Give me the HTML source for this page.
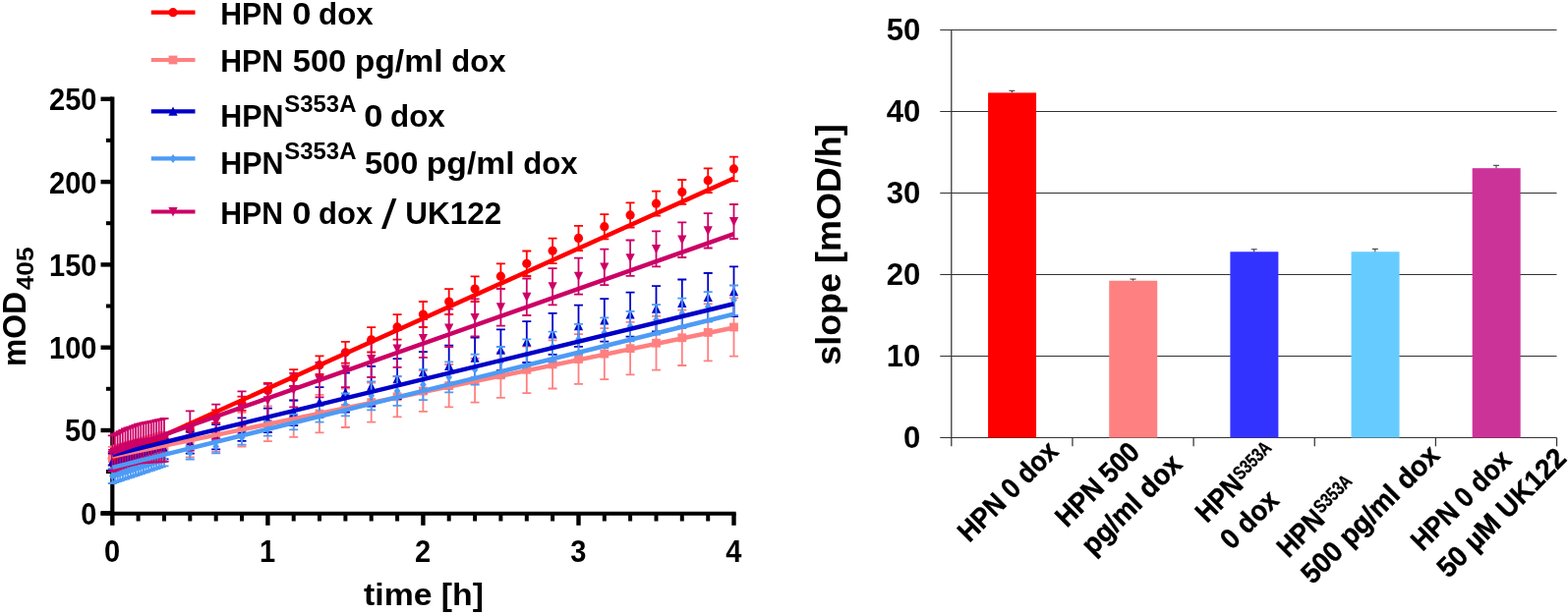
<!DOCTYPE html>
<html lang="en"><head><meta charset="utf-8"><title>HPN activity</title>
<style>html,body{margin:0;padding:0;background:#fff}body{width:1595px;height:626px;overflow:hidden}</style></head>
<body>
<svg width="1595" height="626" viewBox="0 0 1595 626" style="display:block">
<rect width="1595" height="626" fill="#ffffff"/>
<line x1="956.3" y1="445.50" x2="1583.5" y2="445.50" stroke="#333333" stroke-width="1.2"/>
<line x1="956.3" y1="362.50" x2="1583.5" y2="362.50" stroke="#333333" stroke-width="1.2"/>
<line x1="956.3" y1="279.50" x2="1583.5" y2="279.50" stroke="#333333" stroke-width="1.2"/>
<line x1="956.3" y1="196.50" x2="1583.5" y2="196.50" stroke="#333333" stroke-width="1.2"/>
<line x1="956.3" y1="113.50" x2="1583.5" y2="113.50" stroke="#333333" stroke-width="1.2"/>
<line x1="956.3" y1="30.50" x2="1583.5" y2="30.50" stroke="#333333" stroke-width="1.2"/>
<line x1="967.8" y1="30.5" x2="967.8" y2="454.3" stroke="#333333" stroke-width="1.25"/>
<line x1="1090.95" y1="445.5" x2="1090.95" y2="454.3" stroke="#333333" stroke-width="1.25"/>
<line x1="1214.10" y1="445.5" x2="1214.10" y2="454.3" stroke="#333333" stroke-width="1.25"/>
<line x1="1337.25" y1="445.5" x2="1337.25" y2="454.3" stroke="#333333" stroke-width="1.25"/>
<line x1="1460.40" y1="445.5" x2="1460.40" y2="454.3" stroke="#333333" stroke-width="1.25"/>
<line x1="1583.55" y1="445.5" x2="1583.55" y2="454.3" stroke="#333333" stroke-width="1.25"/>
<rect x="1005.08" y="94.41" width="49" height="351.09" fill="#ff0000"/>
<path d="M1029.4 94.4V92.3M1026.4 92.3H1032.4" stroke="#333333" stroke-width="1" fill="none"/>
<rect x="1128.23" y="285.73" width="49" height="159.77" fill="#ff8080"/>
<path d="M1152.5 285.7V284.1M1149.5 284.1H1155.5" stroke="#333333" stroke-width="1" fill="none"/>
<rect x="1251.38" y="256.26" width="49" height="189.24" fill="#3333ff"/>
<path d="M1275.7 256.3V253.8M1272.7 253.8H1278.7" stroke="#333333" stroke-width="1" fill="none"/>
<rect x="1374.53" y="256.26" width="49" height="189.24" fill="#66ccff"/>
<path d="M1398.8 256.3V253.4M1395.8 253.4H1401.8" stroke="#333333" stroke-width="1" fill="none"/>
<rect x="1497.67" y="171.19" width="49" height="274.31" fill="#cc3399"/>
<path d="M1522.0 171.2V168.3M1519.0 168.3H1525.0" stroke="#333333" stroke-width="1" fill="none"/>
<text x="936.3" y="456.1" font-size="31.5" text-anchor="end" textLength="17.3" lengthAdjust="spacingAndGlyphs" font-family="Liberation Sans, Arial, sans-serif" font-weight="bold">0</text>
<text x="936.3" y="373.1" font-size="31.5" text-anchor="end" textLength="34.6" lengthAdjust="spacingAndGlyphs" font-family="Liberation Sans, Arial, sans-serif" font-weight="bold">10</text>
<text x="936.3" y="290.1" font-size="31.5" text-anchor="end" textLength="34.6" lengthAdjust="spacingAndGlyphs" font-family="Liberation Sans, Arial, sans-serif" font-weight="bold">20</text>
<text x="936.3" y="207.1" font-size="31.5" text-anchor="end" textLength="34.6" lengthAdjust="spacingAndGlyphs" font-family="Liberation Sans, Arial, sans-serif" font-weight="bold">30</text>
<text x="936.3" y="124.1" font-size="31.5" text-anchor="end" textLength="34.6" lengthAdjust="spacingAndGlyphs" font-family="Liberation Sans, Arial, sans-serif" font-weight="bold">40</text>
<text x="936.3" y="41.1" font-size="31.5" text-anchor="end" textLength="34.6" lengthAdjust="spacingAndGlyphs" font-family="Liberation Sans, Arial, sans-serif" font-weight="bold">50</text>
<text transform="translate(854.5,371.8) rotate(-90)" font-size="35.8" textLength="245.5" lengthAdjust="spacingAndGlyphs" font-family="Liberation Sans, Arial, sans-serif" font-weight="bold">slope [mOD/h]</text>
<text transform="translate(986.1,552.9) rotate(-45)" font-size="29" textLength="130" lengthAdjust="spacingAndGlyphs" stroke="#000" stroke-width="0.45" stroke-linejoin="round" font-family="Liberation Sans, Arial, sans-serif" font-weight="bold">HPN 0 dox</text>
<text transform="translate(1085.3,537.7) rotate(-45)" font-size="29" textLength="107" lengthAdjust="spacingAndGlyphs" stroke="#000" stroke-width="0.45" stroke-linejoin="round" font-family="Liberation Sans, Arial, sans-serif" font-weight="bold">HPN 500</text>
<text transform="translate(1111.7,566.3) rotate(-45)" font-size="29" textLength="130.5" lengthAdjust="spacingAndGlyphs" stroke="#000" stroke-width="0.45" stroke-linejoin="round" font-family="Liberation Sans, Arial, sans-serif" font-weight="bold">pg/ml dox</text>
<text transform="translate(1227.8,533.2) rotate(-45)" stroke="#000" stroke-linejoin="round" font-family="Liberation Sans, Arial, sans-serif" font-weight="bold"><tspan x="0" y="0" font-size="29" stroke-width="0.45" textLength="54" lengthAdjust="spacingAndGlyphs">HPN</tspan><tspan x="55.1" y="-6.7" font-size="19.5" stroke-width="0.3" textLength="46" lengthAdjust="spacingAndGlyphs">S353A</tspan></text>
<text transform="translate(1253.0,560.5) rotate(-45)" font-size="29" textLength="70" lengthAdjust="spacingAndGlyphs" stroke="#000" stroke-width="0.45" stroke-linejoin="round" font-family="Liberation Sans, Arial, sans-serif" font-weight="bold">0 dox</text>
<text transform="translate(1310.8,568.7) rotate(-45)" stroke="#000" stroke-linejoin="round" font-family="Liberation Sans, Arial, sans-serif" font-weight="bold"><tspan x="0" y="0" font-size="29" stroke-width="0.45" textLength="54" lengthAdjust="spacingAndGlyphs">HPN</tspan><tspan x="55.4" y="-8.5" font-size="19.5" stroke-width="0.3" textLength="46" lengthAdjust="spacingAndGlyphs">S353A</tspan></text>
<text transform="translate(1335.2,595.8) rotate(-45)" font-size="29" textLength="185" lengthAdjust="spacingAndGlyphs" stroke="#000" stroke-width="0.45" stroke-linejoin="round" font-family="Liberation Sans, Arial, sans-serif" font-weight="bold">500 pg/ml dox</text>
<text transform="translate(1447.1,561.9) rotate(-45)" font-size="29" textLength="130" lengthAdjust="spacingAndGlyphs" stroke="#000" stroke-width="0.45" stroke-linejoin="round" font-family="Liberation Sans, Arial, sans-serif" font-weight="bold">HPN 0 dox</text>
<text transform="translate(1473.4,589.6) rotate(-45)" font-size="29" textLength="172" lengthAdjust="spacingAndGlyphs" stroke="#000" stroke-width="0.45" stroke-linejoin="round" font-family="Liberation Sans, Arial, sans-serif" font-weight="bold">50 µM UK122</text>
<path d="M114.3 98.6V524.5" stroke="#000" stroke-width="4.2" fill="none"/>
<path d="M102.5 522.6999999999999H748.6" stroke="#000" stroke-width="3.9" fill="none"/>
<line x1="102.5" y1="522.3" x2="114.3" y2="522.3" stroke="#000" stroke-width="4.4"/>
<line x1="107.9" y1="480.1" x2="114.3" y2="480.1" stroke="#000" stroke-width="4"/>
<text x="98.4" y="533.7" font-size="31" text-anchor="end" textLength="16.1" lengthAdjust="spacingAndGlyphs" font-family="Liberation Sans, Arial, sans-serif" font-weight="bold">0</text>
<line x1="102.5" y1="438.0" x2="114.3" y2="438.0" stroke="#000" stroke-width="4.4"/>
<line x1="107.9" y1="395.8" x2="114.3" y2="395.8" stroke="#000" stroke-width="4"/>
<text x="98.4" y="449.4" font-size="31" text-anchor="end" textLength="32.3" lengthAdjust="spacingAndGlyphs" font-family="Liberation Sans, Arial, sans-serif" font-weight="bold">50</text>
<line x1="102.5" y1="353.7" x2="114.3" y2="353.7" stroke="#000" stroke-width="4.4"/>
<line x1="107.9" y1="311.5" x2="114.3" y2="311.5" stroke="#000" stroke-width="4"/>
<text x="98.4" y="365.1" font-size="31" text-anchor="end" textLength="48.4" lengthAdjust="spacingAndGlyphs" font-family="Liberation Sans, Arial, sans-serif" font-weight="bold">100</text>
<line x1="102.5" y1="269.4" x2="114.3" y2="269.4" stroke="#000" stroke-width="4.4"/>
<line x1="107.9" y1="227.2" x2="114.3" y2="227.2" stroke="#000" stroke-width="4"/>
<text x="98.4" y="280.8" font-size="31" text-anchor="end" textLength="48.4" lengthAdjust="spacingAndGlyphs" font-family="Liberation Sans, Arial, sans-serif" font-weight="bold">150</text>
<line x1="102.5" y1="185.1" x2="114.3" y2="185.1" stroke="#000" stroke-width="4.4"/>
<line x1="107.9" y1="142.9" x2="114.3" y2="142.9" stroke="#000" stroke-width="4"/>
<text x="98.4" y="196.5" font-size="31" text-anchor="end" textLength="48.4" lengthAdjust="spacingAndGlyphs" font-family="Liberation Sans, Arial, sans-serif" font-weight="bold">200</text>
<line x1="102.5" y1="100.8" x2="114.3" y2="100.8" stroke="#000" stroke-width="4.4"/>
<text x="98.4" y="112.2" font-size="31" text-anchor="end" textLength="48.4" lengthAdjust="spacingAndGlyphs" font-family="Liberation Sans, Arial, sans-serif" font-weight="bold">250</text>
<line x1="114.3" y1="522.3" x2="114.3" y2="534.8" stroke="#000" stroke-width="4.4"/>
<text x="114.0" y="571.5" font-size="31" text-anchor="middle" textLength="16.15" lengthAdjust="spacingAndGlyphs" font-family="Liberation Sans, Arial, sans-serif" font-weight="bold">0</text>
<line x1="140.6" y1="522.3" x2="140.6" y2="530.5" stroke="#000" stroke-width="4"/>
<line x1="167.0" y1="522.3" x2="167.0" y2="530.5" stroke="#000" stroke-width="4"/>
<line x1="193.3" y1="522.3" x2="193.3" y2="530.5" stroke="#000" stroke-width="4"/>
<line x1="219.7" y1="522.3" x2="219.7" y2="530.5" stroke="#000" stroke-width="4"/>
<line x1="246.0" y1="522.3" x2="246.0" y2="530.5" stroke="#000" stroke-width="4"/>
<line x1="272.4" y1="522.3" x2="272.4" y2="534.8" stroke="#000" stroke-width="4.4"/>
<text x="272.1" y="571.5" font-size="31" text-anchor="middle" textLength="16.15" lengthAdjust="spacingAndGlyphs" font-family="Liberation Sans, Arial, sans-serif" font-weight="bold">1</text>
<line x1="298.7" y1="522.3" x2="298.7" y2="530.5" stroke="#000" stroke-width="4"/>
<line x1="325.0" y1="522.3" x2="325.0" y2="530.5" stroke="#000" stroke-width="4"/>
<line x1="351.4" y1="522.3" x2="351.4" y2="530.5" stroke="#000" stroke-width="4"/>
<line x1="377.7" y1="522.3" x2="377.7" y2="530.5" stroke="#000" stroke-width="4"/>
<line x1="404.1" y1="522.3" x2="404.1" y2="530.5" stroke="#000" stroke-width="4"/>
<line x1="430.4" y1="522.3" x2="430.4" y2="534.8" stroke="#000" stroke-width="4.4"/>
<text x="430.1" y="571.5" font-size="31" text-anchor="middle" textLength="16.15" lengthAdjust="spacingAndGlyphs" font-family="Liberation Sans, Arial, sans-serif" font-weight="bold">2</text>
<line x1="456.7" y1="522.3" x2="456.7" y2="530.5" stroke="#000" stroke-width="4"/>
<line x1="483.1" y1="522.3" x2="483.1" y2="530.5" stroke="#000" stroke-width="4"/>
<line x1="509.4" y1="522.3" x2="509.4" y2="530.5" stroke="#000" stroke-width="4"/>
<line x1="535.8" y1="522.3" x2="535.8" y2="530.5" stroke="#000" stroke-width="4"/>
<line x1="562.1" y1="522.3" x2="562.1" y2="530.5" stroke="#000" stroke-width="4"/>
<line x1="588.5" y1="522.3" x2="588.5" y2="534.8" stroke="#000" stroke-width="4.4"/>
<text x="588.2" y="571.5" font-size="31" text-anchor="middle" textLength="16.15" lengthAdjust="spacingAndGlyphs" font-family="Liberation Sans, Arial, sans-serif" font-weight="bold">3</text>
<line x1="614.8" y1="522.3" x2="614.8" y2="530.5" stroke="#000" stroke-width="4"/>
<line x1="641.1" y1="522.3" x2="641.1" y2="530.5" stroke="#000" stroke-width="4"/>
<line x1="667.5" y1="522.3" x2="667.5" y2="530.5" stroke="#000" stroke-width="4"/>
<line x1="693.8" y1="522.3" x2="693.8" y2="530.5" stroke="#000" stroke-width="4"/>
<line x1="720.2" y1="522.3" x2="720.2" y2="530.5" stroke="#000" stroke-width="4"/>
<line x1="746.5" y1="522.3" x2="746.5" y2="534.8" stroke="#000" stroke-width="4.4"/>
<text x="746.2" y="571.5" font-size="31" text-anchor="middle" textLength="16.15" lengthAdjust="spacingAndGlyphs" font-family="Liberation Sans, Arial, sans-serif" font-weight="bold">4</text>
<text x="431" y="616.2" font-size="31" text-anchor="middle" textLength="122" lengthAdjust="spacingAndGlyphs" font-family="Liberation Sans, Arial, sans-serif" font-weight="bold">time [h]</text>
<text transform="translate(26.2,373) rotate(-90)" font-family="Liberation Sans, Arial, sans-serif" font-weight="bold"><tspan x="0" y="0" font-size="32.5" textLength="76" lengthAdjust="spacingAndGlyphs">mOD</tspan><tspan x="77.7" y="7.3" font-size="24" textLength="44" lengthAdjust="spacingAndGlyphs">405</tspan></text>
<path d="M114.3 459.9V473.4M109.8 459.9H118.8M109.8 473.4H118.8M116.9 458.9V472.4M112.4 458.9H121.4M112.4 472.4H121.4M119.6 457.9V471.3M115.1 457.9H124.1M115.1 471.3H124.1M122.2 456.9V470.3M117.7 456.9H126.7M117.7 470.3H126.7M124.8 455.9V469.2M120.3 455.9H129.3M120.3 469.2H129.3M127.5 454.9V468.2M123.0 454.9H132.0M123.0 468.2H132.0M130.1 454.0V467.1M125.6 454.0H134.6M125.6 467.1H134.6M132.7 453.0V466.1M128.2 453.0H137.2M128.2 466.1H137.2M135.4 452.0V465.0M130.9 452.0H139.9M130.9 465.0H139.9M138.0 451.0V464.0M133.5 451.0H142.5M133.5 464.0H142.5M140.6 450.0V462.9M136.1 450.0H145.1M136.1 462.9H145.1M143.3 449.0V461.9M138.8 449.0H147.8M138.8 461.9H147.8M145.9 448.0V460.8M141.4 448.0H150.4M141.4 460.8H150.4M148.5 447.0V459.8M144.0 447.0H153.0M144.0 459.8H153.0M151.2 446.0V458.7M146.7 446.0H155.7M146.7 458.7H155.7M153.8 445.0V457.7M149.3 445.0H158.3M149.3 457.7H158.3M156.4 444.0V456.6M151.9 444.0H160.9M151.9 456.6H160.9M159.1 443.0V455.6M154.6 443.0H163.6M154.6 455.6H163.6M161.7 442.0V454.5M157.2 442.0H166.2M157.2 454.5H166.2M164.3 441.0V453.5M159.8 441.0H168.8M159.8 453.5H168.8M167.0 440.1V452.4M162.5 440.1H171.5M162.5 452.4H171.5M193.3 431.3V443.1M188.8 431.3H197.8M188.8 443.1H197.8M219.7 417.5V430.4M215.2 417.5H224.2M215.2 430.4H224.2M246.0 403.7V417.8M241.5 403.7H250.5M241.5 417.8H250.5M272.4 389.9V405.1M267.9 389.9H276.9M267.9 405.1H276.9M298.7 376.2V393.0M294.2 376.2H303.2M294.2 393.0H303.2M325.0 362.4V381.0M320.5 362.4H329.5M320.5 381.0H329.5M351.4 347.8V369.7M346.9 347.8H355.9M346.9 369.7H355.9M377.7 333.2V358.5M373.2 333.2H382.2M373.2 358.5H382.2M404.1 320.1V345.7M399.6 320.1H408.6M399.6 345.7H408.6M430.4 307.0V333.0M425.9 307.0H434.9M425.9 333.0H434.9M456.7 294.1V320.0M452.2 294.1H461.2M452.2 320.0H461.2M483.1 281.3V307.0M478.6 281.3H487.6M478.6 307.0H487.6M509.4 268.4V294.0M504.9 268.4H513.9M504.9 294.0H513.9M535.8 255.5V281.0M531.3 255.5H540.3M531.3 281.0H540.3M562.1 242.6V268.1M557.6 242.6H566.6M557.6 268.1H566.6M588.5 229.8V255.1M584.0 229.8H593.0M584.0 255.1H593.0M614.8 218.1V243.3M610.3 218.1H619.3M610.3 243.3H619.3M641.1 206.4V231.5M636.6 206.4H645.6M636.6 231.5H645.6M667.5 194.7V219.7M663.0 194.7H672.0M663.0 219.7H672.0M693.8 183.0V207.9M689.3 183.0H698.3M689.3 207.9H698.3M720.2 171.3V196.1M715.7 171.3H724.7M715.7 196.1H724.7M746.5 159.6V184.3M742.0 159.6H751.0M742.0 184.3H751.0" stroke="#ff0000" stroke-width="1.8" fill="none"/>
<circle cx="114.3" cy="466.7" r="4.6" fill="#ff0000"/><circle cx="116.9" cy="465.6" r="4.6" fill="#ff0000"/><circle cx="119.6" cy="464.6" r="4.6" fill="#ff0000"/><circle cx="122.2" cy="463.6" r="4.6" fill="#ff0000"/><circle cx="124.8" cy="462.6" r="4.6" fill="#ff0000"/><circle cx="127.5" cy="461.6" r="4.6" fill="#ff0000"/><circle cx="130.1" cy="460.5" r="4.6" fill="#ff0000"/><circle cx="132.7" cy="459.5" r="4.6" fill="#ff0000"/><circle cx="135.4" cy="458.5" r="4.6" fill="#ff0000"/><circle cx="138.0" cy="457.5" r="4.6" fill="#ff0000"/><circle cx="140.6" cy="456.4" r="4.6" fill="#ff0000"/><circle cx="143.3" cy="455.4" r="4.6" fill="#ff0000"/><circle cx="145.9" cy="454.4" r="4.6" fill="#ff0000"/><circle cx="148.5" cy="453.4" r="4.6" fill="#ff0000"/><circle cx="151.2" cy="452.4" r="4.6" fill="#ff0000"/><circle cx="153.8" cy="451.3" r="4.6" fill="#ff0000"/><circle cx="156.4" cy="450.3" r="4.6" fill="#ff0000"/><circle cx="159.1" cy="449.3" r="4.6" fill="#ff0000"/><circle cx="161.7" cy="448.3" r="4.6" fill="#ff0000"/><circle cx="164.3" cy="447.2" r="4.6" fill="#ff0000"/><circle cx="167.0" cy="446.2" r="4.6" fill="#ff0000"/><circle cx="193.3" cy="437.2" r="4.6" fill="#ff0000"/><circle cx="219.7" cy="423.9" r="4.6" fill="#ff0000"/><circle cx="246.0" cy="410.7" r="4.6" fill="#ff0000"/><circle cx="272.4" cy="397.5" r="4.6" fill="#ff0000"/><circle cx="298.7" cy="384.6" r="4.6" fill="#ff0000"/><circle cx="325.0" cy="371.7" r="4.6" fill="#ff0000"/><circle cx="351.4" cy="358.8" r="4.6" fill="#ff0000"/><circle cx="377.7" cy="345.8" r="4.6" fill="#ff0000"/><circle cx="404.1" cy="332.9" r="4.6" fill="#ff0000"/><circle cx="430.4" cy="320.0" r="4.6" fill="#ff0000"/><circle cx="456.7" cy="307.1" r="4.6" fill="#ff0000"/><circle cx="483.1" cy="294.1" r="4.6" fill="#ff0000"/><circle cx="509.4" cy="281.2" r="4.6" fill="#ff0000"/><circle cx="535.8" cy="268.3" r="4.6" fill="#ff0000"/><circle cx="562.1" cy="255.3" r="4.6" fill="#ff0000"/><circle cx="588.5" cy="242.4" r="4.6" fill="#ff0000"/><circle cx="614.8" cy="230.7" r="4.6" fill="#ff0000"/><circle cx="641.1" cy="218.9" r="4.6" fill="#ff0000"/><circle cx="667.5" cy="207.2" r="4.6" fill="#ff0000"/><circle cx="693.8" cy="195.4" r="4.6" fill="#ff0000"/><circle cx="720.2" cy="183.7" r="4.6" fill="#ff0000"/><circle cx="746.5" cy="171.9" r="4.6" fill="#ff0000"/>
<path d="M114.3 454.9V478.5M109.8 454.9H118.8M109.8 478.5H118.8M116.9 454.1V478.0M112.4 454.1H121.4M112.4 478.0H121.4M119.6 453.4V477.6M115.1 453.4H124.1M115.1 477.6H124.1M122.2 452.6V477.1M117.7 452.6H126.7M117.7 477.1H126.7M124.8 451.9V476.7M120.3 451.9H129.3M120.3 476.7H129.3M127.5 451.1V476.2M123.0 451.1H132.0M123.0 476.2H132.0M130.1 450.4V475.8M125.6 450.4H134.6M125.6 475.8H134.6M132.7 449.6V475.4M128.2 449.6H137.2M128.2 475.4H137.2M135.4 448.9V474.9M130.9 448.9H139.9M130.9 474.9H139.9M138.0 448.1V474.5M133.5 448.1H142.5M133.5 474.5H142.5M140.6 447.4V474.0M136.1 447.4H145.1M136.1 474.0H145.1M143.3 446.6V473.6M138.8 446.6H147.8M138.8 473.6H147.8M145.9 445.9V473.1M141.4 445.9H150.4M141.4 473.1H150.4M148.5 445.1V472.7M144.0 445.1H153.0M144.0 472.7H153.0M151.2 444.4V472.2M146.7 444.4H155.7M146.7 472.2H155.7M153.8 443.6V471.8M149.3 443.6H158.3M149.3 471.8H158.3M156.4 442.9V471.4M151.9 442.9H160.9M151.9 471.4H160.9M159.1 442.1V470.9M154.6 442.1H163.6M154.6 470.9H163.6M161.7 441.4V470.5M157.2 441.4H166.2M157.2 470.5H166.2M164.3 440.7V470.0M159.8 440.7H168.8M159.8 470.0H168.8M167.0 439.9V469.6M162.5 439.9H171.5M162.5 469.6H171.5M193.3 432.6V465.3M188.8 432.6H197.8M188.8 465.3H197.8M219.7 426.2V459.9M215.2 426.2H224.2M215.2 459.9H224.2M246.0 419.8V454.5M241.5 419.8H250.5M241.5 454.5H250.5M272.4 413.4V449.1M267.9 413.4H276.9M267.9 449.1H276.9M298.7 407.7V444.8M294.2 407.7H303.2M294.2 444.8H303.2M325.0 401.9V440.3M320.5 401.9H329.5M320.5 440.3H329.5M351.4 395.7V435.0M346.9 395.7H355.9M346.9 435.0H355.9M377.7 389.5V429.6M373.2 389.5H382.2M373.2 429.6H382.2M404.1 383.3V424.3M399.6 383.3H408.6M399.6 424.3H408.6M430.4 377.1V418.9M425.9 377.1H434.9M425.9 418.9H434.9M456.7 371.0V414.3M452.2 371.0H461.2M452.2 414.3H461.2M483.1 364.8V409.6M478.6 364.8H487.6M478.6 409.6H487.6M509.4 358.7V404.9M504.9 358.7H513.9M504.9 404.9H513.9M535.8 352.5V400.2M531.3 352.5H540.3M531.3 400.2H540.3M562.1 346.4V395.5M557.6 346.4H566.6M557.6 395.5H566.6M588.5 340.2V390.8M584.0 340.2H593.0M584.0 390.8H593.0M614.8 334.1V386.1M610.3 334.1H619.3M610.3 386.1H619.3M641.1 327.9V381.4M636.6 327.9H645.6M636.6 381.4H645.6M667.5 321.8V376.7M663.0 321.8H672.0M663.0 376.7H672.0M693.8 315.6V372.0M689.3 315.6H698.3M689.3 372.0H698.3M720.2 309.4V367.3M715.7 309.4H724.7M715.7 367.3H724.7M746.5 303.3V362.6M742.0 303.3H751.0M742.0 362.6H751.0" stroke="#ff8080" stroke-width="1.8" fill="none"/>
<rect x="109.9" y="462.3" width="8.8" height="8.8" fill="#ff8080"/><rect x="112.5" y="461.7" width="8.8" height="8.8" fill="#ff8080"/><rect x="115.2" y="461.1" width="8.8" height="8.8" fill="#ff8080"/><rect x="117.8" y="460.5" width="8.8" height="8.8" fill="#ff8080"/><rect x="120.4" y="459.9" width="8.8" height="8.8" fill="#ff8080"/><rect x="123.1" y="459.3" width="8.8" height="8.8" fill="#ff8080"/><rect x="125.7" y="458.7" width="8.8" height="8.8" fill="#ff8080"/><rect x="128.3" y="458.1" width="8.8" height="8.8" fill="#ff8080"/><rect x="131.0" y="457.5" width="8.8" height="8.8" fill="#ff8080"/><rect x="133.6" y="456.9" width="8.8" height="8.8" fill="#ff8080"/><rect x="136.2" y="456.3" width="8.8" height="8.8" fill="#ff8080"/><rect x="138.9" y="455.7" width="8.8" height="8.8" fill="#ff8080"/><rect x="141.5" y="455.1" width="8.8" height="8.8" fill="#ff8080"/><rect x="144.1" y="454.5" width="8.8" height="8.8" fill="#ff8080"/><rect x="146.8" y="453.9" width="8.8" height="8.8" fill="#ff8080"/><rect x="149.4" y="453.3" width="8.8" height="8.8" fill="#ff8080"/><rect x="152.0" y="452.7" width="8.8" height="8.8" fill="#ff8080"/><rect x="154.7" y="452.1" width="8.8" height="8.8" fill="#ff8080"/><rect x="157.3" y="451.5" width="8.8" height="8.8" fill="#ff8080"/><rect x="159.9" y="450.9" width="8.8" height="8.8" fill="#ff8080"/><rect x="162.6" y="450.3" width="8.8" height="8.8" fill="#ff8080"/><rect x="188.9" y="444.6" width="8.8" height="8.8" fill="#ff8080"/><rect x="215.3" y="438.7" width="8.8" height="8.8" fill="#ff8080"/><rect x="241.6" y="432.8" width="8.8" height="8.8" fill="#ff8080"/><rect x="268.0" y="426.9" width="8.8" height="8.8" fill="#ff8080"/><rect x="294.3" y="421.8" width="8.8" height="8.8" fill="#ff8080"/><rect x="320.6" y="416.7" width="8.8" height="8.8" fill="#ff8080"/><rect x="347.0" y="411.0" width="8.8" height="8.8" fill="#ff8080"/><rect x="373.3" y="405.2" width="8.8" height="8.8" fill="#ff8080"/><rect x="399.7" y="399.4" width="8.8" height="8.8" fill="#ff8080"/><rect x="426.0" y="393.6" width="8.8" height="8.8" fill="#ff8080"/><rect x="452.3" y="388.2" width="8.8" height="8.8" fill="#ff8080"/><rect x="478.7" y="382.8" width="8.8" height="8.8" fill="#ff8080"/><rect x="505.0" y="377.4" width="8.8" height="8.8" fill="#ff8080"/><rect x="531.4" y="371.9" width="8.8" height="8.8" fill="#ff8080"/><rect x="557.7" y="366.5" width="8.8" height="8.8" fill="#ff8080"/><rect x="584.1" y="361.1" width="8.8" height="8.8" fill="#ff8080"/><rect x="610.4" y="355.7" width="8.8" height="8.8" fill="#ff8080"/><rect x="636.7" y="350.3" width="8.8" height="8.8" fill="#ff8080"/><rect x="663.1" y="344.8" width="8.8" height="8.8" fill="#ff8080"/><rect x="689.4" y="339.4" width="8.8" height="8.8" fill="#ff8080"/><rect x="715.8" y="334.0" width="8.8" height="8.8" fill="#ff8080"/><rect x="742.1" y="328.6" width="8.8" height="8.8" fill="#ff8080"/>
<path d="M114.3 461.6V478.5M109.8 461.6H118.8M109.8 478.5H118.8M116.9 460.9V477.9M112.4 460.9H121.4M112.4 477.9H121.4M119.6 460.2V477.4M115.1 460.2H124.1M115.1 477.4H124.1M122.2 459.4V476.8M117.7 459.4H126.7M117.7 476.8H126.7M124.8 458.7V476.3M120.3 458.7H129.3M120.3 476.3H129.3M127.5 458.0V475.7M123.0 458.0H132.0M123.0 475.7H132.0M130.1 457.3V475.1M125.6 457.3H134.6M125.6 475.1H134.6M132.7 456.5V474.6M128.2 456.5H137.2M128.2 474.6H137.2M135.4 455.8V474.0M130.9 455.8H139.9M130.9 474.0H139.9M138.0 455.1V473.5M133.5 455.1H142.5M133.5 473.5H142.5M140.6 454.4V472.9M136.1 454.4H145.1M136.1 472.9H145.1M143.3 453.6V472.4M138.8 453.6H147.8M138.8 472.4H147.8M145.9 452.9V471.8M141.4 452.9H150.4M141.4 471.8H150.4M148.5 452.2V471.3M144.0 452.2H153.0M144.0 471.3H153.0M151.2 451.5V470.7M146.7 451.5H155.7M146.7 470.7H155.7M153.8 450.7V470.2M149.3 450.7H158.3M149.3 470.2H158.3M156.4 450.0V469.6M151.9 450.0H160.9M151.9 469.6H160.9M159.1 449.3V469.1M154.6 449.3H163.6M154.6 469.1H163.6M161.7 448.6V468.5M157.2 448.6H166.2M157.2 468.5H166.2M164.3 447.9V467.9M159.8 447.9H168.8M159.8 467.9H168.8M167.0 447.1V467.4M162.5 447.1H171.5M162.5 467.4H171.5M193.3 439.7V461.6M188.8 439.7H197.8M188.8 461.6H197.8M219.7 432.1V457.4M215.2 432.1H224.2M215.2 457.4H224.2M246.0 425.3V448.9M241.5 425.3H250.5M241.5 448.9H250.5M272.4 415.7V440.0M267.9 415.7H276.9M267.9 440.0H276.9M298.7 407.5V433.1M294.2 407.5H303.2M294.2 433.1H303.2M325.0 394.1V424.5M320.5 394.1H329.5M320.5 424.5H329.5M351.4 379.5V419.6M346.9 379.5H355.9M346.9 419.6H355.9M377.7 372.9V413.5M373.2 372.9H382.2M373.2 413.5H382.2M404.1 365.2V406.2M399.6 365.2H408.6M399.6 406.2H408.6M430.4 358.1V399.6M425.9 358.1H434.9M425.9 399.6H434.9M456.7 351.6V393.2M452.2 351.6H461.2M452.2 393.2H461.2M483.1 343.5V385.2M478.6 343.5H487.6M478.6 385.2H487.6M509.4 335.3V377.1M504.9 335.3H513.9M504.9 377.1H513.9M535.8 327.1V369.0M531.3 327.1H540.3M531.3 369.0H540.3M562.1 318.9V360.9M557.6 318.9H566.6M557.6 360.9H566.6M588.5 310.7V352.9M584.0 310.7H593.0M584.0 352.9H593.0M614.8 304.2V347.7M610.3 304.2H619.3M610.3 347.7H619.3M641.1 297.6V342.6M636.6 297.6H645.6M636.6 342.6H645.6M667.5 291.1V337.4M663.0 291.1H672.0M663.0 337.4H672.0M693.8 284.5V332.3M689.3 284.5H698.3M689.3 332.3H698.3M720.2 278.0V327.1M715.7 278.0H724.7M715.7 327.1H724.7M746.5 271.4V322.0M742.0 271.4H751.0M742.0 322.0H751.0" stroke="#0000c8" stroke-width="1.8" fill="none"/>
<path d="M114.3 465.1L118.9 474.5L109.7 474.5Z" fill="#0000c8"/><path d="M116.9 464.5L121.5 473.9L112.3 473.9Z" fill="#0000c8"/><path d="M119.6 463.9L124.2 473.3L115.0 473.3Z" fill="#0000c8"/><path d="M122.2 463.2L126.8 472.6L117.6 472.6Z" fill="#0000c8"/><path d="M124.8 462.6L129.4 472.0L120.2 472.0Z" fill="#0000c8"/><path d="M127.5 461.9L132.1 471.3L122.9 471.3Z" fill="#0000c8"/><path d="M130.1 461.3L134.7 470.7L125.5 470.7Z" fill="#0000c8"/><path d="M132.7 460.7L137.3 470.1L128.1 470.1Z" fill="#0000c8"/><path d="M135.4 460.0L140.0 469.4L130.8 469.4Z" fill="#0000c8"/><path d="M138.0 459.4L142.6 468.8L133.4 468.8Z" fill="#0000c8"/><path d="M140.6 458.7L145.2 468.1L136.0 468.1Z" fill="#0000c8"/><path d="M143.3 458.1L147.9 467.5L138.7 467.5Z" fill="#0000c8"/><path d="M145.9 457.5L150.5 466.9L141.3 466.9Z" fill="#0000c8"/><path d="M148.5 456.8L153.1 466.2L143.9 466.2Z" fill="#0000c8"/><path d="M151.2 456.2L155.8 465.6L146.6 465.6Z" fill="#0000c8"/><path d="M153.8 455.6L158.4 465.0L149.2 465.0Z" fill="#0000c8"/><path d="M156.4 454.9L161.0 464.3L151.8 464.3Z" fill="#0000c8"/><path d="M159.1 454.3L163.7 463.7L154.5 463.7Z" fill="#0000c8"/><path d="M161.7 453.6L166.3 463.0L157.1 463.0Z" fill="#0000c8"/><path d="M164.3 453.0L168.9 462.4L159.7 462.4Z" fill="#0000c8"/><path d="M167.0 452.4L171.6 461.8L162.4 461.8Z" fill="#0000c8"/><path d="M193.3 445.7L197.9 455.1L188.7 455.1Z" fill="#0000c8"/><path d="M219.7 439.9L224.3 449.3L215.1 449.3Z" fill="#0000c8"/><path d="M246.0 432.2L250.6 441.6L241.4 441.6Z" fill="#0000c8"/><path d="M272.4 423.0L277.0 432.4L267.8 432.4Z" fill="#0000c8"/><path d="M298.7 415.4L303.3 424.8L294.1 424.8Z" fill="#0000c8"/><path d="M325.0 404.4L329.6 413.8L320.4 413.8Z" fill="#0000c8"/><path d="M351.4 394.7L356.0 404.1L346.8 404.1Z" fill="#0000c8"/><path d="M377.7 388.3L382.3 397.7L373.1 397.7Z" fill="#0000c8"/><path d="M404.1 380.8L408.7 390.2L399.5 390.2Z" fill="#0000c8"/><path d="M430.4 373.9L435.0 383.3L425.8 383.3Z" fill="#0000c8"/><path d="M456.7 367.5L461.3 376.9L452.1 376.9Z" fill="#0000c8"/><path d="M483.1 359.4L487.7 368.8L478.5 368.8Z" fill="#0000c8"/><path d="M509.4 351.3L514.0 360.7L504.8 360.7Z" fill="#0000c8"/><path d="M535.8 343.1L540.4 352.5L531.2 352.5Z" fill="#0000c8"/><path d="M562.1 335.0L566.7 344.4L557.5 344.4Z" fill="#0000c8"/><path d="M588.5 326.9L593.1 336.3L583.9 336.3Z" fill="#0000c8"/><path d="M614.8 321.0L619.4 330.4L610.2 330.4Z" fill="#0000c8"/><path d="M641.1 315.2L645.7 324.6L636.5 324.6Z" fill="#0000c8"/><path d="M667.5 309.3L672.1 318.7L662.9 318.7Z" fill="#0000c8"/><path d="M693.8 303.5L698.4 312.9L689.2 312.9Z" fill="#0000c8"/><path d="M720.2 297.7L724.8 307.1L715.6 307.1Z" fill="#0000c8"/><path d="M746.5 291.8L751.1 301.2L741.9 301.2Z" fill="#0000c8"/>
<path d="M114.3 476.8V492.0M109.8 476.8H118.8M109.8 492.0H118.8M116.9 476.0V491.1M112.4 476.0H121.4M112.4 491.1H121.4M119.6 475.1V490.2M115.1 475.1H124.1M115.1 490.2H124.1M122.2 474.3V489.3M117.7 474.3H126.7M117.7 489.3H126.7M124.8 473.5V488.4M120.3 473.5H129.3M120.3 488.4H129.3M127.5 472.7V487.6M123.0 472.7H132.0M123.0 487.6H132.0M130.1 471.8V486.7M125.6 471.8H134.6M125.6 486.7H134.6M132.7 471.0V485.8M128.2 471.0H137.2M128.2 485.8H137.2M135.4 470.2V484.9M130.9 470.2H139.9M130.9 484.9H139.9M138.0 469.4V484.0M133.5 469.4H142.5M133.5 484.0H142.5M140.6 468.5V483.2M136.1 468.5H145.1M136.1 483.2H145.1M143.3 467.7V482.3M138.8 467.7H147.8M138.8 482.3H147.8M145.9 466.9V481.4M141.4 466.9H150.4M141.4 481.4H150.4M148.5 466.1V480.5M144.0 466.1H153.0M144.0 480.5H153.0M151.2 465.3V479.6M146.7 465.3H155.7M146.7 479.6H155.7M153.8 464.4V478.8M149.3 464.4H158.3M149.3 478.8H158.3M156.4 463.6V477.9M151.9 463.6H160.9M151.9 477.9H160.9M159.1 462.8V477.0M154.6 462.8H163.6M154.6 477.0H163.6M161.7 462.0V476.1M157.2 462.0H166.2M157.2 476.1H166.2M164.3 461.1V475.2M159.8 461.1H168.8M159.8 475.2H168.8M167.0 460.3V474.4M162.5 460.3H171.5M162.5 474.4H171.5M193.3 454.0V467.5M188.8 454.0H197.8M188.8 467.5H197.8M219.7 447.5V461.3M215.2 447.5H224.2M215.2 461.3H224.2M246.0 438.5V452.6M241.5 438.5H250.5M241.5 452.6H250.5M272.4 429.1V443.6M267.9 429.1H276.9M267.9 443.6H276.9M298.7 421.7V437.4M294.2 421.7H303.2M294.2 437.4H303.2M325.0 412.7V429.6M320.5 412.7H329.5M320.5 429.6H329.5M351.4 400.5V423.4M346.9 400.5H355.9M346.9 423.4H355.9M377.7 388.3V417.3M373.2 388.3H382.2M373.2 417.3H382.2M404.1 382.9V412.9M399.6 382.9H408.6M399.6 412.9H408.6M430.4 376.1V407.1M425.9 376.1H434.9M425.9 407.1H434.9M456.7 368.4V399.4M452.2 368.4H461.2M452.2 399.4H461.2M483.1 360.7V391.6M478.6 360.7H487.6M478.6 391.6H487.6M509.4 353.0V383.9M504.9 353.0H513.9M504.9 383.9H513.9M535.8 345.3V376.1M531.3 345.3H540.3M531.3 376.1H540.3M562.1 337.6V368.4M557.6 337.6H566.6M557.6 368.4H566.6M588.5 329.9V360.6M584.0 329.9H593.0M584.0 360.6H593.0M614.8 323.4V354.0M610.3 323.4H619.3M610.3 354.0H619.3M641.1 316.8V347.3M636.6 316.8H645.6M636.6 347.3H645.6M667.5 310.2V340.7M663.0 310.2H672.0M663.0 340.7H672.0M693.8 303.6V334.1M689.3 303.6H698.3M689.3 334.1H698.3M720.2 297.1V327.5M715.7 297.1H724.7M715.7 327.5H724.7M746.5 290.5V320.8M742.0 290.5H751.0M742.0 320.8H751.0" stroke="#4d9bf5" stroke-width="1.8" fill="none"/>
<path d="M114.3 479.9L117.6 484.4L114.3 488.9L111.0 484.4Z" fill="#4d9bf5"/><path d="M116.9 479.0L120.2 483.5L116.9 488.0L113.6 483.5Z" fill="#4d9bf5"/><path d="M119.6 478.2L122.9 482.7L119.6 487.2L116.3 482.7Z" fill="#4d9bf5"/><path d="M122.2 477.3L125.5 481.8L122.2 486.3L118.9 481.8Z" fill="#4d9bf5"/><path d="M124.8 476.5L128.1 481.0L124.8 485.5L121.5 481.0Z" fill="#4d9bf5"/><path d="M127.5 475.6L130.8 480.1L127.5 484.6L124.2 480.1Z" fill="#4d9bf5"/><path d="M130.1 474.8L133.4 479.3L130.1 483.8L126.8 479.3Z" fill="#4d9bf5"/><path d="M132.7 473.9L136.0 478.4L132.7 482.9L129.4 478.4Z" fill="#4d9bf5"/><path d="M135.4 473.1L138.7 477.6L135.4 482.1L132.1 477.6Z" fill="#4d9bf5"/><path d="M138.0 472.2L141.3 476.7L138.0 481.2L134.7 476.7Z" fill="#4d9bf5"/><path d="M140.6 471.3L143.9 475.8L140.6 480.3L137.3 475.8Z" fill="#4d9bf5"/><path d="M143.3 470.5L146.6 475.0L143.3 479.5L140.0 475.0Z" fill="#4d9bf5"/><path d="M145.9 469.6L149.2 474.1L145.9 478.6L142.6 474.1Z" fill="#4d9bf5"/><path d="M148.5 468.8L151.8 473.3L148.5 477.8L145.2 473.3Z" fill="#4d9bf5"/><path d="M151.2 467.9L154.5 472.4L151.2 476.9L147.9 472.4Z" fill="#4d9bf5"/><path d="M153.8 467.1L157.1 471.6L153.8 476.1L150.5 471.6Z" fill="#4d9bf5"/><path d="M156.4 466.2L159.7 470.7L156.4 475.2L153.1 470.7Z" fill="#4d9bf5"/><path d="M159.1 465.4L162.4 469.9L159.1 474.4L155.8 469.9Z" fill="#4d9bf5"/><path d="M161.7 464.5L165.0 469.0L161.7 473.5L158.4 469.0Z" fill="#4d9bf5"/><path d="M164.3 463.7L167.6 468.2L164.3 472.7L161.0 468.2Z" fill="#4d9bf5"/><path d="M167.0 462.9L170.3 467.4L167.0 471.9L163.7 467.4Z" fill="#4d9bf5"/><path d="M193.3 456.3L196.6 460.8L193.3 465.3L190.0 460.8Z" fill="#4d9bf5"/><path d="M219.7 449.9L223.0 454.4L219.7 458.9L216.4 454.4Z" fill="#4d9bf5"/><path d="M246.0 441.1L249.3 445.6L246.0 450.1L242.7 445.6Z" fill="#4d9bf5"/><path d="M272.4 431.8L275.7 436.3L272.4 440.8L269.1 436.3Z" fill="#4d9bf5"/><path d="M298.7 425.1L302.0 429.6L298.7 434.1L295.4 429.6Z" fill="#4d9bf5"/><path d="M325.0 416.6L328.3 421.1L325.0 425.6L321.7 421.1Z" fill="#4d9bf5"/><path d="M351.4 407.5L354.7 412.0L351.4 416.5L348.1 412.0Z" fill="#4d9bf5"/><path d="M377.7 398.3L381.0 402.8L377.7 407.3L374.4 402.8Z" fill="#4d9bf5"/><path d="M404.1 393.4L407.4 397.9L404.1 402.4L400.8 397.9Z" fill="#4d9bf5"/><path d="M430.4 387.1L433.7 391.6L430.4 396.1L427.1 391.6Z" fill="#4d9bf5"/><path d="M456.7 379.4L460.0 383.9L456.7 388.4L453.4 383.9Z" fill="#4d9bf5"/><path d="M483.1 371.7L486.4 376.2L483.1 380.7L479.8 376.2Z" fill="#4d9bf5"/><path d="M509.4 364.0L512.7 368.5L509.4 373.0L506.1 368.5Z" fill="#4d9bf5"/><path d="M535.8 356.2L539.1 360.7L535.8 365.2L532.5 360.7Z" fill="#4d9bf5"/><path d="M562.1 348.5L565.4 353.0L562.1 357.5L558.8 353.0Z" fill="#4d9bf5"/><path d="M588.5 340.8L591.8 345.3L588.5 349.8L585.2 345.3Z" fill="#4d9bf5"/><path d="M614.8 334.2L618.1 338.7L614.8 343.2L611.5 338.7Z" fill="#4d9bf5"/><path d="M641.1 327.6L644.4 332.1L641.1 336.6L637.8 332.1Z" fill="#4d9bf5"/><path d="M667.5 321.0L670.8 325.5L667.5 330.0L664.2 325.5Z" fill="#4d9bf5"/><path d="M693.8 314.4L697.1 318.9L693.8 323.4L690.5 318.9Z" fill="#4d9bf5"/><path d="M720.2 307.8L723.5 312.3L720.2 316.8L716.9 312.3Z" fill="#4d9bf5"/><path d="M746.5 301.1L749.8 305.6L746.5 310.1L743.2 305.6Z" fill="#4d9bf5"/>
<path d="M114.3 443.4V479.8M109.8 443.4H118.8M109.8 479.8H118.8M116.9 442.0V478.8M112.4 442.0H121.4M112.4 478.8H121.4M119.6 440.6V477.7M115.1 440.6H124.1M115.1 477.7H124.1M122.2 439.2V476.6M117.7 439.2H126.7M117.7 476.6H126.7M124.8 437.8V475.6M120.3 437.8H129.3M120.3 475.6H129.3M127.5 436.5V474.6M123.0 436.5H132.0M123.0 474.6H132.0M130.1 435.5V474.0M125.6 435.5H134.6M125.6 474.0H134.6M132.7 434.6V473.4M128.2 434.6H137.2M128.2 473.4H137.2M135.4 433.6V472.8M130.9 433.6H139.9M130.9 472.8H139.9M138.0 432.7V472.2M133.5 432.7H142.5M133.5 472.2H142.5M140.6 431.7V471.6M136.1 431.7H145.1M136.1 471.6H145.1M143.3 431.1V471.3M138.8 431.1H147.8M138.8 471.3H147.8M145.9 430.5V471.2M141.4 430.5H150.4M141.4 471.2H150.4M148.5 430.0V471.0M144.0 430.0H153.0M144.0 471.0H153.0M151.2 429.4V470.9M146.7 429.4H155.7M146.7 470.9H155.7M153.8 428.9V470.7M149.3 428.9H158.3M149.3 470.7H158.3M156.4 428.3V470.6M151.9 428.3H160.9M151.9 470.6H160.9M159.1 427.7V470.4M154.6 427.7H163.6M154.6 470.4H163.6M161.7 427.2V470.3M157.2 427.2H166.2M157.2 470.3H166.2M164.3 426.6V470.2M159.8 426.6H168.8M159.8 470.2H168.8M167.0 426.0V469.8M162.5 426.0H171.5M162.5 469.8H171.5M193.3 418.4V458.6M188.8 418.4H197.8M188.8 458.6H197.8M219.7 411.7V446.5M215.2 411.7H224.2M215.2 446.5H224.2M246.0 398.4V432.7M241.5 398.4H250.5M241.5 432.7H250.5M272.4 390.8V424.5M267.9 390.8H276.9M267.9 424.5H276.9M298.7 379.8V414.4M294.2 379.8H303.2M294.2 414.4H303.2M325.0 368.9V404.3M320.5 368.9H329.5M320.5 404.3H329.5M351.4 357.9V394.2M346.9 357.9H355.9M346.9 394.2H355.9M377.7 347.0V384.0M373.2 347.0H382.2M373.2 384.0H382.2M404.1 336.0V373.9M399.6 336.0H408.6M399.6 373.9H408.6M430.4 325.0V363.8M425.9 325.0H434.9M425.9 363.8H434.9M456.7 314.7V353.1M452.2 314.7H461.2M452.2 353.1H461.2M483.1 304.3V342.4M478.6 304.3H487.6M478.6 342.4H487.6M509.4 293.9V331.7M504.9 293.9H513.9M504.9 331.7H513.9M535.8 283.5V321.0M531.3 283.5H540.3M531.3 321.0H540.3M562.1 273.1V310.4M557.6 273.1H566.6M557.6 310.4H566.6M588.5 262.7V299.7M584.0 262.7H593.0M584.0 299.7H593.0M614.8 253.6V290.2M610.3 253.6H619.3M610.3 290.2H619.3M641.1 244.5V280.8M636.6 244.5H645.6M636.6 280.8H645.6M667.5 235.4V271.4M663.0 235.4H672.0M663.0 271.4H672.0M693.8 226.3V262.0M689.3 226.3H698.3M689.3 262.0H698.3M720.2 217.1V252.5M715.7 217.1H724.7M715.7 252.5H724.7M746.5 208.0V243.1M742.0 208.0H751.0M742.0 243.1H751.0" stroke="#cc0066" stroke-width="1.8" fill="none"/>
<path d="M114.3 466.5L118.9 457.1L109.7 457.1Z" fill="#cc0066"/><path d="M116.9 465.3L121.5 455.9L112.3 455.9Z" fill="#cc0066"/><path d="M119.6 464.0L124.2 454.6L115.0 454.6Z" fill="#cc0066"/><path d="M122.2 462.8L126.8 453.4L117.6 453.4Z" fill="#cc0066"/><path d="M124.8 461.6L129.4 452.2L120.2 452.2Z" fill="#cc0066"/><path d="M127.5 460.4L132.1 451.0L122.9 451.0Z" fill="#cc0066"/><path d="M130.1 459.7L134.7 450.3L125.5 450.3Z" fill="#cc0066"/><path d="M132.7 458.9L137.3 449.5L128.1 449.5Z" fill="#cc0066"/><path d="M135.4 458.1L140.0 448.7L130.8 448.7Z" fill="#cc0066"/><path d="M138.0 457.3L142.6 447.9L133.4 447.9Z" fill="#cc0066"/><path d="M140.6 456.5L145.2 447.1L136.0 447.1Z" fill="#cc0066"/><path d="M143.3 456.1L147.9 446.7L138.7 446.7Z" fill="#cc0066"/><path d="M145.9 455.8L150.5 446.4L141.3 446.4Z" fill="#cc0066"/><path d="M148.5 455.4L153.1 446.0L143.9 446.0Z" fill="#cc0066"/><path d="M151.2 455.1L155.8 445.7L146.6 445.7Z" fill="#cc0066"/><path d="M153.8 454.7L158.4 445.3L149.2 445.3Z" fill="#cc0066"/><path d="M156.4 454.4L161.0 445.0L151.8 445.0Z" fill="#cc0066"/><path d="M159.1 454.0L163.7 444.6L154.5 444.6Z" fill="#cc0066"/><path d="M161.7 453.6L166.3 444.2L157.1 444.2Z" fill="#cc0066"/><path d="M164.3 453.3L168.9 443.9L159.7 443.9Z" fill="#cc0066"/><path d="M167.0 452.8L171.6 443.4L162.4 443.4Z" fill="#cc0066"/><path d="M193.3 443.4L197.9 434.0L188.7 434.0Z" fill="#cc0066"/><path d="M219.7 434.0L224.3 424.6L215.1 424.6Z" fill="#cc0066"/><path d="M246.0 420.5L250.6 411.1L241.4 411.1Z" fill="#cc0066"/><path d="M272.4 412.6L277.0 403.2L267.8 403.2Z" fill="#cc0066"/><path d="M298.7 402.0L303.3 392.6L294.1 392.6Z" fill="#cc0066"/><path d="M325.0 391.5L329.6 382.1L320.4 382.1Z" fill="#cc0066"/><path d="M351.4 380.9L356.0 371.5L346.8 371.5Z" fill="#cc0066"/><path d="M377.7 370.4L382.3 361.0L373.1 361.0Z" fill="#cc0066"/><path d="M404.1 359.9L408.7 350.5L399.5 350.5Z" fill="#cc0066"/><path d="M430.4 349.3L435.0 339.9L425.8 339.9Z" fill="#cc0066"/><path d="M456.7 338.8L461.3 329.4L452.1 329.4Z" fill="#cc0066"/><path d="M483.1 328.3L487.7 318.9L478.5 318.9Z" fill="#cc0066"/><path d="M509.4 317.7L514.0 308.3L504.8 308.3Z" fill="#cc0066"/><path d="M535.8 307.2L540.4 297.8L531.2 297.8Z" fill="#cc0066"/><path d="M562.1 296.6L566.7 287.2L557.5 287.2Z" fill="#cc0066"/><path d="M588.5 286.1L593.1 276.7L583.9 276.7Z" fill="#cc0066"/><path d="M614.8 276.8L619.4 267.4L610.2 267.4Z" fill="#cc0066"/><path d="M641.1 267.6L645.7 258.2L636.5 258.2Z" fill="#cc0066"/><path d="M667.5 258.3L672.1 248.9L662.9 248.9Z" fill="#cc0066"/><path d="M693.8 249.0L698.4 239.6L689.2 239.6Z" fill="#cc0066"/><path d="M720.2 239.7L724.8 230.3L715.6 230.3Z" fill="#cc0066"/><path d="M746.5 230.5L751.1 221.1L741.9 221.1Z" fill="#cc0066"/>
<line x1="114.3" y1="466.8" x2="746.5" y2="181.6" stroke="#ff0000" stroke-width="4.5"/>
<line x1="114.3" y1="464.6" x2="746.5" y2="333.5" stroke="#ff8080" stroke-width="4.5"/>
<line x1="114.3" y1="463.0" x2="746.5" y2="309.2" stroke="#0000c8" stroke-width="4.5"/>
<line x1="114.3" y1="475.9" x2="746.5" y2="319.8" stroke="#4d9bf5" stroke-width="4.5"/>
<line x1="114.3" y1="461.1" x2="746.5" y2="238.2" stroke="#cc0066" stroke-width="4.5"/>
<line x1="153.8" y1="12.7" x2="198.5" y2="12.7" stroke="#ff0000" stroke-width="4.2"/>
<circle cx="176.0" cy="12.7" r="4.6" fill="#ff0000"/>
<line x1="153.8" y1="61" x2="198.5" y2="61" stroke="#ff8080" stroke-width="4.2"/>
<rect x="171.6" y="56.6" width="8.8" height="8.8" fill="#ff8080"/>
<line x1="153.8" y1="113.3" x2="198.5" y2="113.3" stroke="#0000c8" stroke-width="4.2"/>
<path d="M176.0 108.4L180.6 117.8L171.4 117.8Z" fill="#0000c8"/>
<line x1="153.8" y1="161.4" x2="198.5" y2="161.4" stroke="#4d9bf5" stroke-width="4.2"/>
<path d="M176.0 156.9L179.3 161.4L176.0 165.9L172.7 161.4Z" fill="#4d9bf5"/>
<line x1="153.8" y1="215.5" x2="198.5" y2="215.5" stroke="#cc0066" stroke-width="4.2"/>
<path d="M176.0 220.4L180.6 211.0L171.4 211.0Z" fill="#cc0066"/>
<text font-family="Liberation Sans, Arial, sans-serif" font-weight="bold"><tspan x="224.18" y="24.5" font-size="32" textLength="63.90" lengthAdjust="spacingAndGlyphs">HPN</tspan> <tspan x="297.17" y="24.5" font-size="32" textLength="19.18" lengthAdjust="spacingAndGlyphs">0</tspan> <tspan x="324.05" y="24.5" font-size="32" textLength="55.64" lengthAdjust="spacingAndGlyphs">dox</tspan></text>
<text font-family="Liberation Sans, Arial, sans-serif" font-weight="bold"><tspan x="224.18" y="73.2" font-size="32" textLength="63.90" lengthAdjust="spacingAndGlyphs">HPN</tspan> <tspan x="297.82" y="73.2" font-size="32" textLength="54.46" lengthAdjust="spacingAndGlyphs">500</tspan> <tspan x="360.68" y="73.2" font-size="32" textLength="89.91" lengthAdjust="spacingAndGlyphs">pg/ml</tspan> <tspan x="459.26" y="73.2" font-size="32" textLength="55.23" lengthAdjust="spacingAndGlyphs">dox</tspan></text>
<text font-family="Liberation Sans, Arial, sans-serif" font-weight="bold"><tspan x="224.18" y="128.5" font-size="32" textLength="64.22" lengthAdjust="spacingAndGlyphs">HPN</tspan><tspan x="289.22" y="113.5" font-size="23.5" textLength="73.21" lengthAdjust="spacingAndGlyphs">S353A</tspan> <tspan x="370.17" y="128.5" font-size="32" textLength="19.18" lengthAdjust="spacingAndGlyphs">0</tspan> <tspan x="397.05" y="128.5" font-size="32" textLength="55.75" lengthAdjust="spacingAndGlyphs">dox</tspan></text>
<text font-family="Liberation Sans, Arial, sans-serif" font-weight="bold"><tspan x="224.18" y="176.8" font-size="32" textLength="64.22" lengthAdjust="spacingAndGlyphs">HPN</tspan><tspan x="289.22" y="161.8" font-size="23.5" textLength="73.21" lengthAdjust="spacingAndGlyphs">S353A</tspan> <tspan x="370.92" y="176.8" font-size="32" textLength="54.46" lengthAdjust="spacingAndGlyphs">500</tspan> <tspan x="433.78" y="176.8" font-size="32" textLength="89.91" lengthAdjust="spacingAndGlyphs">pg/ml</tspan> <tspan x="532.35" y="176.8" font-size="32" textLength="55.34" lengthAdjust="spacingAndGlyphs">dox</tspan></text>
<text font-family="Liberation Sans, Arial, sans-serif" font-weight="bold"><tspan x="224.18" y="228.3" font-size="32" textLength="63.90" lengthAdjust="spacingAndGlyphs">HPN</tspan> <tspan x="297.17" y="228.3" font-size="32" textLength="19.18" lengthAdjust="spacingAndGlyphs">0</tspan> <tspan x="324.06" y="228.3" font-size="32" textLength="55.13" lengthAdjust="spacingAndGlyphs">dox</tspan> <tspan x="387.90" y="233.2" font-size="42" textLength="15.44" lengthAdjust="spacingAndGlyphs" style="font-weight:normal">/</tspan> <tspan x="412.31" y="228.3" font-size="32" textLength="97.82" lengthAdjust="spacingAndGlyphs">UK122</tspan></text>
</svg>
</body></html>
